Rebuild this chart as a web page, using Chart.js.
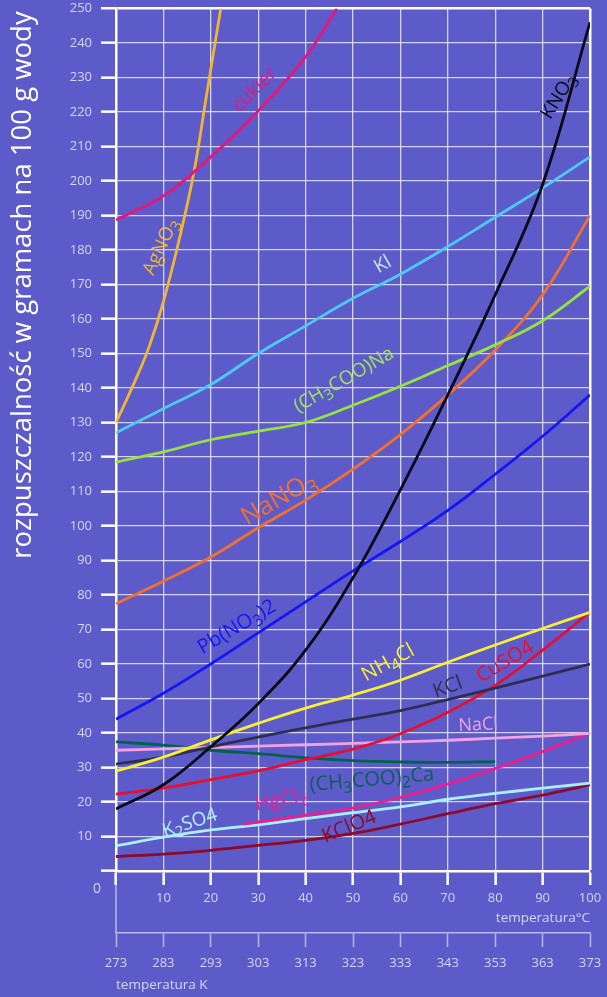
<!DOCTYPE html>
<html>
<head>
<meta charset="utf-8">
<script src="https://cdn.jsdelivr.net/npm/chart.js@4/dist/chart.umd.min.js"></script>
<style>
  html, body { margin: 0; padding: 0; background: #5d5bca; }
  #wrap { width: 607px; height: 997px; }
</style>
</head>
<body>
<div id="wrap"><canvas id="c" width="607" height="997"></canvas></div>
<script>
// Temperatures in °C shared by most curves
const tempC = [0, 10, 20, 30, 40, 50, 60, 70, 80, 90, 100];

// Solubility, g per 100 g of water
const kI        = [127, 134, 141, 150, 158, 166, 173, 181, 189.5, 198, 207];
const naAcetate = [118.5, 121.5, 125, 127.5, 130, 135, 140.5, 146.5, 152.5, 159.5, 169.5];
const naNO3     = [77.5, 84, 91, 99.5, 107.5, 116.5, 126.5, 138, 151, 167, 190];
const pbNO3     = [44, 51.5, 60, 69, 78, 87, 95.5, 104.5, 115, 126, 138];
const kNO3      = [18, 25, 36, 48.5, 64, 85, 110.5, 138, 167, 199, 246];
const nh4Cl     = [29, 33, 38, 42.8, 47.2, 51, 55.3, 60.5, 65.5, 70.3, 75];
const kCl       = [31, 33, 36, 38.8, 41.5, 44, 46.5, 49.7, 53, 56.5, 60];
const naCl      = [35, 35.4, 35.8, 36.2, 36.6, 37, 37.4, 37.9, 38.5, 39.1, 39.9];
const cuSO4     = [22.3, 24, 26.5, 29, 32.3, 35.3, 39.8, 46, 53.8, 64, 75];
const k2SO4     = [7.3, 9.8, 11.9, 13.4, 15.2, 16.9, 18.6, 20.8, 22.5, 24, 25.5];
const kClO4     = [4.2, 4.9, 6, 7.4, 8.9, 10.9, 13.6, 16.6, 19.5, 22, 25];

// Curves measured on their own temperature points
const agNO3T  = [0, 4, 7, 10, 13.5, 16.5, 19, 22.1];
const agNO3   = [130, 142, 152, 165, 184, 203, 224, 250];
const sugarT  = [0, 10, 20, 30, 40, 46.6];
const sugar   = [188.7, 195.7, 207, 220.3, 236, 250];
const caAcetateT = [0, 10, 20, 30, 40, 50, 60, 70, 80];
const caAcetate  = [37.4, 36.5, 35, 34, 32.8, 32, 31.6, 31.5, 31.7];
const hgCl2T  = [27, 30, 40, 50, 60, 70, 80, 90, 100];
const hgCl2   = [13.6, 14.2, 16.2, 18.3, 21.3, 25.2, 29.7, 34.6, 40];

// Axis ranges and steps
const yRange = [0, 250];
const cRange = [0, 100];
const kRange = [273, 373];
const stepY = 10, stepX = 10;

const FONT = '"Open Sans", "Noto Sans", sans-serif';
const tickColor = '#d6d6f6';
const kLine = 'rgba(215,215,250,0.75)';

function pts(xs, ys) { return ys.map((v, i) => ({ x: xs[i], y: v })); }

// Curve definitions: [text label, colour, xs, ys, label T, label value, angle, font size, label colour]
const series = [
  ['KNO_3',         '#0a0a14', tempC, kNO3,      93.4, 224.5, -58, 19, '#0a0a14'],
  ['cukier',        '#e3187c', sugarT, sugar,    29.3, 226.4, -45, 19, '#e3187c'],
  ['AgNO_3',        '#efb632', agNO3T, agNO3,     9.5, 180.9, -65, 19, '#efb632'],
  ['Kl',            '#4ccaf2', tempC, kI,        56.3, 175.7, -30, 19, '#cfe6ff'],
  ['(CH_3COO)Na',   '#97e23e', tempC, naAcetate, 48.1, 142.3, -30, 19, '#a2e25a'],
  ['NaNO_3',        '#f2702e', tempC, naNO3,     34.4, 107.8, -30, 25, '#f2702e'],
  ['Pb(NO_3)2',     '#1616f2', tempC, pbNO3,     25.5,  70.7, -31, 20, '#1616f2'],
  ['NH_4Cl',        '#f6f032', tempC, nh4Cl,     57.4,  60.3, -29, 20, '#f6f032'],
  ['KCl',           '#2e2e52', tempC, kCl,       70.0,  53.2, -20, 20, '#2e2e52'],
  ['CuSO4',         '#e6102e', tempC, cuSO4,     82.1,  60.6, -31, 20, '#e6102e'],
  ['NaCl',          '#f2a2e2', tempC, naCl,      76.4,  42.3,  -3, 18, '#f2a2e2'],
  ['(CH_3COO)_2Ca', '#00634c', caAcetateT, caAcetate, 54.0, 26.4, -5, 20, '#0c5e52'],
  ['HgCl_2',        '#e8208e', hgCl2T, hgCl2,    34.8,  20.6, -12, 20, '#e8208e'],
  ['K_2SO4',        '#aaf0ff', tempC, k2SO4,     15.6,  13.9, -18, 19, '#b2f0ff'],
  ['KClO4',         '#8c0a2a', tempC, kClO4,     49.2,  12.8, -22, 20, '#8c0a2a']
];

const datasets = series.map(s => ({
  label: s[0].replace(/_/g, ''),
  data: pts(s[2], s[3]),
  borderColor: s[1],
  borderWidth: 2.8,
  pointRadius: 0,
  fill: false,
  tension: 0.4
}));

// Split "NaNO_3" into normal and subscript runs
function runs(text) {
  const out = []; let buf = '';
  for (let i = 0; i < text.length; i++) {
    if (text[i] === '_') {
      if (buf) { out.push({ t: buf, sub: false }); buf = ''; }
      out.push({ t: text[i + 1], sub: true }); i++;
    } else buf += text[i];
  }
  if (buf) out.push({ t: buf, sub: false });
  return out;
}

function drawFormula(ctx, text, x, y, angle, size, color) {
  const parts = runs(text);
  const fMain = size + 'px ' + FONT;
  const fSub = Math.round(size * 0.78) + 'px ' + FONT;
  let w = 0;
  parts.forEach(p => { ctx.font = p.sub ? fSub : fMain; p.w = ctx.measureText(p.t).width; w += p.w; });
  ctx.save();
  ctx.translate(x, y);
  ctx.rotate(angle * Math.PI / 180);
  ctx.fillStyle = color;
  ctx.textBaseline = 'middle';
  ctx.textAlign = 'left';
  let cx = -w / 2;
  parts.forEach(p => {
    ctx.font = p.sub ? fSub : fMain;
    ctx.fillText(p.t, cx, p.sub ? size * 0.3 : 0);
    cx += p.w;
  });
  ctx.restore();
}

const background = {
  id: 'background',
  beforeDraw(chart) {
    const c = chart.ctx;
    c.save();
    c.fillStyle = '#5d5bca';
    c.fillRect(0, 0, chart.width, chart.height);
    c.restore();
  }
};

const decorations = {
  id: 'decorations',
  afterDraw(chart) {
    const c = chart.ctx;
    const { x, xK, y } = chart.scales;
    const area = chart.chartArea;

    // link between the °C axis and the kelvin axis
    c.save();
    c.strokeStyle = kLine;
    c.lineWidth = 1.5;
    c.beginPath();
    c.moveTo(area.left, area.bottom + 14);
    c.lineTo(area.left, xK.top);
    c.stroke();

    // zero of the value axis
    c.fillStyle = tickColor;
    c.font = '14px ' + FONT;
    c.textAlign = 'center';
    c.textBaseline = 'middle';
    c.fillText('0', area.left - 19, area.bottom + 18);

    // value axis caption
    c.translate(23, 285);
    c.rotate(-Math.PI / 2);
    c.fillStyle = '#ffffff';
    c.font = '27.5px ' + FONT;
    c.fillText('rozpuszczalność w gramach na 100 g wody', 0, 0);
    c.restore();

    // curve names
    series.forEach(s => {
      drawFormula(c, s[0], x.getPixelForValue(s[4]), y.getPixelForValue(s[5]), s[6], s[7], s[8]);
    });
  }
};

const gridColor = () => 'rgba(255,255,255,0.72)';

function fixHorizontal(h) {
  return s => { s.height = h; s.paddingLeft = 0; s.paddingRight = 0; };
}

new Chart(document.getElementById('c'), {
  type: 'line',
  data: { datasets },
  options: {
    responsive: false,
    animation: false,
    layout: { padding: { left: 0, right: 17, top: 8.5, bottom: 0 } },
    plugins: { legend: { display: false }, tooltip: { enabled: false } },
    scales: {
      x: {
        type: 'linear', position: 'bottom', weight: 0,
        min: cRange[0], max: cRange[1],
        ticks: { stepSize: stepX, padding: 5, color: tickColor, maxRotation: 0, autoSkip: false,
                 font: { family: FONT, size: 13 }, callback: v => (v === 0 ? '' : v) },
        grid: {
          color: ctx => (ctx.tick && ctx.tick.value === cRange[1] ? '#ffffff' : gridColor()),
          lineWidth: ctx => (ctx.tick && ctx.tick.value === cRange[1] ? 2.5 : 1.3),
          tickColor: '#ffffff', tickWidth: 2.5, tickLength: 14
        },
        border: { color: '#ffffff', width: 2.5 },
        title: { display: true, text: 'temperatura°C', align: 'end', color: tickColor,
                 font: { family: FONT, size: 13.5 }, padding: { top: 0, bottom: 7 } },
        afterFit: fixHorizontal(62)
      },
      xK: {
        type: 'linear', position: 'bottom', weight: 1,
        min: kRange[0], max: kRange[1],
        ticks: { stepSize: stepX, padding: 8, color: tickColor, maxRotation: 0, autoSkip: false,
                 font: { family: FONT, size: 13 } },
        grid: { drawOnChartArea: false, color: kLine, tickColor: kLine, tickWidth: 1.5, tickLength: 14 },
        border: { color: kLine, width: 1.5 },
        title: { display: true, text: 'temperatura K', align: 'start', color: tickColor,
                 font: { family: FONT, size: 13.5 }, padding: { top: 0, bottom: 4 } },
        afterFit: fixHorizontal(64)
      },
      y: {
        type: 'linear', position: 'left',
        min: yRange[0], max: yRange[1],
        ticks: { stepSize: stepY, padding: 9, color: tickColor, autoSkip: false,
                 font: { family: FONT, size: 13 }, callback: v => (v === 0 ? '' : v) },
        grid: {
          color: ctx => (ctx.tick && ctx.tick.value === yRange[1] ? '#ffffff' : gridColor()),
          lineWidth: ctx => (ctx.tick && ctx.tick.value === yRange[1] ? 2.5 : 1.3),
          tickColor: '#ffffff', tickWidth: 2.5, tickLength: 15
        },
        border: { color: '#ffffff', width: 2.5 },
        afterFit: s => { s.width = 116; s.paddingTop = 0; s.paddingBottom = 0; }
      }
    }
  },
  plugins: [background, decorations]
});
</script>
</body>
</html>
